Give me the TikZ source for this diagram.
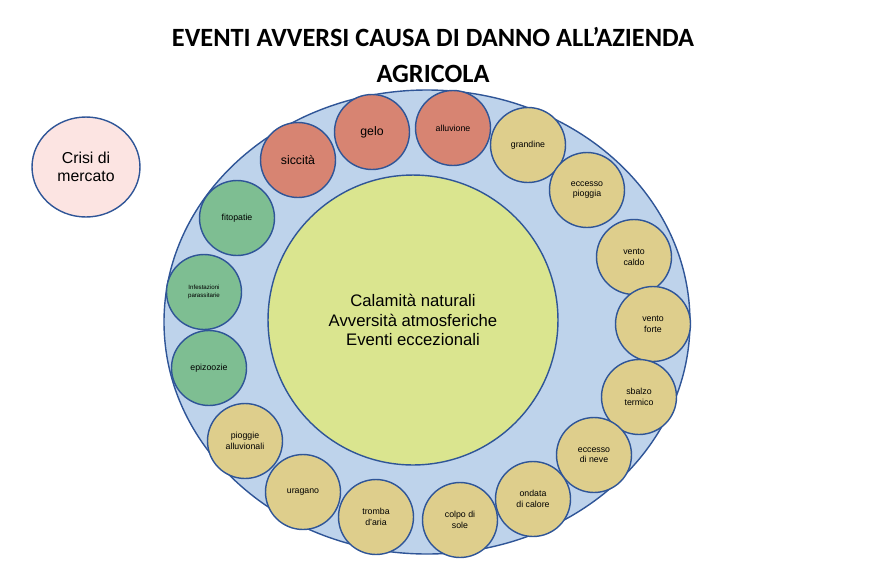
\documentclass[tikz,border=0pt]{standalone}
\usepackage{fontspec}
\setmainfont{Liberation Sans}
\newfontfamily\titlefont{Carlito}
\usetikzlibrary{positioning,shapes.geometric}
\definecolor{ringblue}{RGB}{190,211,235}
\definecolor{edgeblue}{RGB}{47,85,151}
\definecolor{sunyellow}{RGB}{222,206,140}
\definecolor{firered}{RGB}{215,132,114}
\definecolor{leafgreen}{RGB}{126,190,146}
\definecolor{corelime}{RGB}{218,229,143}
\definecolor{marketpink}{RGB}{252,228,226}

\begin{document}
\begin{tikzpicture}[x=0.02cm, y=-0.02cm,
  event/.style={circle, draw=edgeblue, thick, minimum size=1.5cm, inner sep=0pt, align=center, font=\fontsize{5}{6}\selectfont},
  weather/.style={event, fill=sunyellow},
  hazard/.style={event, fill=firered},
  pest/.style={event, fill=leafgreen}]

  \useasboundingbox (0,0) rectangle (890,562);

  \fill[ringblue, draw=edgeblue, thick] (427,322) ellipse [x radius=263, y radius=232];
  \node[circle, fill=corelime, draw=edgeblue, thick, minimum size=5.8cm, align=center,
        font=\fontsize{9.5}{11}\selectfont] (core) at (413,320)
        {Calamità naturali\\Avversità atmosferiche\\Eventi eccezionali};

  \node[ellipse, fill=marketpink, draw=edgeblue, thick, minimum width=2.16cm, minimum height=2cm,
        align=center, font=\fontsize{9}{10.5}\selectfont] (crisi) at (86,167) {Crisi di\\mercato};

  \node[font=\titlefont\bfseries\fontsize{15}{21}\selectfont, align=center] (title) at (433,55)
        {EVENTI AVVERSI CAUSA DI DANNO ALL’AZIENDA\\AGRICOLA};

  \node[hazard, font=\fontsize{7}{8}\selectfont] (siccita) at (298,160) {siccità};
  \node[hazard, font=\fontsize{7}{8}\selectfont] (gelo) at (372,132) {gelo};
  \node[hazard] (alluvione) at (453,128) {alluvione};

  \foreach \name/\pos/\text in {grandine/{528,145}/grandine,
      pioggia/{587,190}/{eccesso\\pioggia},
      caldo/{634,257}/{vento\\caldo},
      forte/{653,324}/{vento\\forte},
      sbalzo/{639,397}/{sbalzo\\termico},
      neve/{594,455}/{eccesso\\di neve},
      ondata/{533,499}/{ondata\\di calore},
      sole/{460,520}/{colpo di\\sole},
      tromba/{376,517}/{tromba\\d’aria},
      uragano/{303,492}/uragano,
      pioggie/{245,441}/{pioggie\\alluvionali}}
    \node[weather] (\name) at (\pos) {\text};

  \node[pest] (fitopatie) at (237,218) {fitopatie};
  \node[pest, font=\fontsize{3.5}{4.5}\selectfont] (infestazioni) at (204,292) {Infestazioni\\parassitarie};
  \node[pest] (epizoozie) at (209,368) {epizoozie};

\end{tikzpicture}
\end{document}
